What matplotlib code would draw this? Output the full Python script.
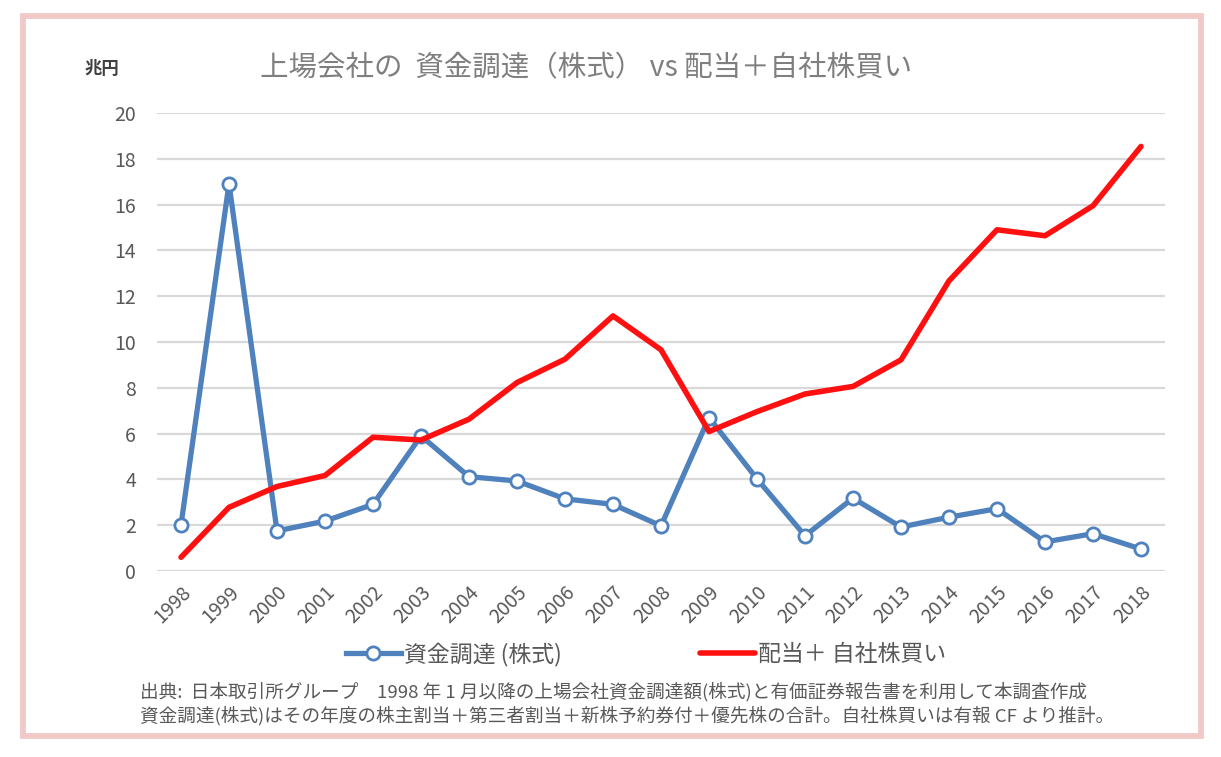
import numpy as np
import matplotlib
matplotlib.use("Agg")
import matplotlib.pyplot as plt
import matplotlib.patches as mpatches

plt.rcParams["font.family"] = ["Noto Sans CJK JP", "DejaVu Sans"]

# ---------------------------------------------------------------------------
# Data (兆円)
# ---------------------------------------------------------------------------
YEARS = [str(y) for y in range(1998, 2019)]

# 資金調達(株式)
FUNDING = [2.01, 16.91, 1.75, 2.18, 2.91, 5.90, 4.12, 3.93, 3.15, 2.91, 1.97,
           6.70, 4.02, 1.54, 3.18, 1.92, 2.35, 2.72, 1.27, 1.63, 0.96]

# 配当＋自社株買い
PAYOUT = [0.60, 2.78, 3.69, 4.17, 5.84, 5.72, 6.63, 8.23, 9.25, 11.14, 9.66,
          6.09, 6.96, 7.73, 8.06, 9.22, 12.67, 14.90, 14.64, 15.95, 18.54]

LABEL_FUNDING = "資金調達 (株式)"
LABEL_PAYOUT = "配当＋ 自社株買い"
TITLE = "上場会社の  資金調達（株式） vs 配当＋自社株買い"
UNIT = "兆円"
NOTE_1 = ("出典:  日本取引所グループ　1998 年 1 月以降の上場会社資金調達額(株式)と"
          "有価証券報告書を利用して本調査作成")
NOTE_2 = ("資金調達(株式)はその年度の株主割当＋第三者割当＋新株予約券付＋優先株の合計。"
          "自社株買いは有報 CF より推計。")

BLUE = "#4f81bd"
RED = "#ff1010"
GREY = "#595959"
PINK = "#f2c9c9"

# ---------------------------------------------------------------------------
# Figure
# ---------------------------------------------------------------------------
W, H = 1221, 757
fig = plt.figure(figsize=(W / 100, H / 100), dpi=100)
fig.patch.set_facecolor("white")

ax = fig.add_axes([157 / W, 1 - 571 / H, (1165 - 157) / W, (571 - 113) / H])

x = np.arange(len(YEARS))
ax.plot(x, FUNDING, color=BLUE, lw=3.8, marker="o", ms=9.5,
        mfc="white", mec=BLUE, mew=2.0, label=LABEL_FUNDING, zorder=3)
ax.plot(x, PAYOUT, color=RED, lw=4.0, label=LABEL_PAYOUT, zorder=4,
        solid_capstyle="round")

ax.set_xlim(-0.5, len(YEARS) - 0.5)
ax.set_ylim(0, 20)
ax.set_yticks(np.arange(0, 21, 2))
ax.set_xticks(x)
ax.set_xticklabels(YEARS, rotation=45, ha="right", rotation_mode="anchor")
ax.tick_params(axis="both", length=0, colors=GREY, labelsize=14)
ax.tick_params(axis="y", pad=15)
ax.tick_params(axis="x", pad=8)
for s in ax.spines.values():
    s.set_visible(False)
ax.grid(axis="y", color="#d9d9d9", lw=1.6)
ax.set_axisbelow(True)

# title / unit
fig.text(260 / W, 1 - 68 / H, TITLE, fontsize=20.5, color="#7f7f7f",
         ha="left", va="center")
fig.text(85 / W, 1 - 69 / H, UNIT, fontsize=12.5, color="#404040",
         ha="left", va="center", fontweight="bold")

# legend
fig.legend(loc="center", bbox_to_anchor=(646 / W, 1 - 654 / H), ncol=2,
           frameon=False, fontsize=16.5, labelcolor=GREY, handlelength=2.4,
           handletextpad=0.15, columnspacing=6.0)

# notes
fig.text(140 / W, 1 - 692 / H, NOTE_1, fontsize=13.4, color=GREY,
         ha="left", va="center")
fig.text(140 / W, 1 - 716 / H, NOTE_2, fontsize=13.4, color=GREY,
         ha="left", va="center")

# pink frame
frame = mpatches.Rectangle((22.5 / W, 1 - 736 / H), (1201 - 22.5) / W,
                           (736 - 15.5) / H, transform=fig.transFigure,
                           fill=False, edgecolor=PINK, lw=4.2)
fig.add_artist(frame)

fig.savefig("out.png", dpi=100)
